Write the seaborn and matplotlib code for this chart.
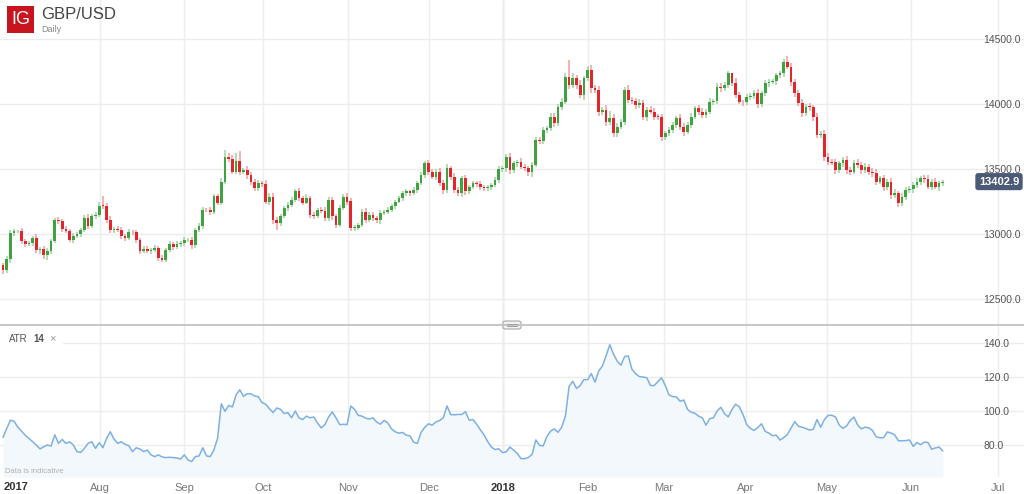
import numpy as np
import pandas as pd
import matplotlib
matplotlib.use("Agg")
import matplotlib.pyplot as plt
import matplotlib.transforms as mtransforms
from matplotlib.patches import Rectangle, FancyBboxPatch
from matplotlib.lines import Line2D
import seaborn as sns

sns.set_theme(style="white")
plt.rcParams['font.family'] = ['Liberation Sans', 'DejaVu Sans']

# ---------------- data ----------------
first_open = 12760
close = [
    12720, 12808, 13008, 13020, 13020, 12944, 12926, 12930, 12969, 12874, 12885, 12841, 12867, 12944, 13105,
    13097, 13038, 13026, 12956, 12987, 12997, 13028, 13123, 13059, 13136, 13149, 13218, 13215, 13110, 13028,
    13038, 13033, 12987, 12969, 13015, 13013, 12956, 12867, 12885, 12872, 12880, 12892, 12815, 12803, 12874,
    12923, 12900, 12923, 12931, 12951, 12956, 12913, 13033, 13060, 13187, 13182, 13172, 13290, 13240, 13400,
    13590, 13580, 13480, 13560, 13480, 13490, 13455, 13400, 13352, 13390, 13385, 13250, 13288, 13110, 13084,
    13135, 13199, 13224, 13263, 13327, 13276, 13242, 13276, 13148, 13135, 13186, 13180, 13122, 13263, 13135,
    13071, 13199, 13288, 13250, 13046, 13050, 13071, 13173, 13110, 13148, 13122, 13110, 13161, 13173, 13186,
    13212, 13250, 13276, 13314, 13327, 13314, 13339, 13390, 13454, 13543, 13480, 13441, 13480, 13390, 13339,
    13505, 13441, 13339, 13314, 13429, 13327, 13365, 13390, 13385, 13365, 13352, 13360, 13378, 13416, 13500,
    13505, 13590, 13492, 13544, 13556, 13518, 13510, 13479, 13531, 13723, 13715, 13800, 13813, 13903, 13851,
    13979, 14018, 14210, 14146, 14197, 14146, 14069, 14197, 14262, 14121, 14108, 13941, 13954, 13864, 13890,
    13774, 13826, 13864, 14108, 14031, 14026, 13992, 14005, 13903, 13954, 13941, 13903, 13900, 13749, 13774,
    13800, 13838, 13890, 13826, 13787, 13838, 13903, 13967, 13941, 13915, 13941, 14018, 14020, 14133, 14121,
    14146, 14236, 14159, 14069, 14018, 14013, 14056, 14060, 14087, 14000, 14082, 14159, 14172, 14175, 14223,
    14236, 14326, 14287, 14172, 14082, 14005, 13928, 13979, 13975, 13903, 13762, 13770, 13595, 13556, 13550,
    13492, 13544, 13570, 13492, 13479, 13544, 13531, 13492, 13518, 13479, 13467, 13403, 13428, 13364, 13403,
    13300, 13313, 13236, 13287, 13339, 13344, 13377, 13403, 13428, 13425, 13364, 13403, 13364, 13390, 13403,
]
wick_up = [
    20, 25, 20, 15, 10, 25, 15, 20, 15, 30, 15, 20, 25, 15, 20,
    25, 15, 20, 10, 20, 15, 15, 20, 30, 15, 20, 25, 75, 20, 25,
    15, 20, 20, 15, 25, 15, 20, 15, 25, 20, 15, 20, 15, 20, 15,
    20, 15, 20, 15, 25, 15, 20, 15, 25, 20, 15, 25, 20, 20, 30,
    55, 30, 25, 60, 80, 20, 30, 25, 20, 25, 20, 30, 25, 30, 20,
    20, 15, 20, 25, 20, 25, 20, 30, 20, 25, 15, 20, 25, 20, 25,
    20, 25, 20, 25, 30, 20, 15, 20, 25, 20, 25, 15, 20, 15, 20,
    15, 15, 20, 15, 20, 15, 20, 15, 20, 15, 25, 20, 20, 30, 25,
    30, 20, 25, 20, 20, 25, 15, 20, 15, 20, 15, 20, 15, 20, 20,
    15, 25, 30, 20, 15, 25, 20, 15, 20, 25, 20, 25, 20, 25, 30,
    20, 25, 30, 128, 40, 25, 35, 20, 30, 40, 25, 30, 20, 35, 60,
    30, 25, 20, 20, 35, 25, 20, 30, 25, 20, 30, 25, 20, 25, 20,
    20, 25, 20, 30, 25, 20, 25, 20, 25, 30, 20, 25, 20, 25, 30,
    20, 20, 5, 40, 20, 15, 20, 25, 20, 30, 20, 25, 20, 20, 15,
    20, 20, 43, 25, 20, 25, 30, 20, 25, 20, 25, 20, 30, 25, 20,
    25, 20, 25, 30, 20, 25, 30, 20, 25, 20, 25, 30, 20, 25, 20,
    25, 30, 20, 25, 20, 25, 20, 25, 20, 25, 30, 20, 25, 20, 15,
]
wick_down = [
    25, 20, 30, 20, 15, 20, 25, 15, 20, 20, 25, 30, 40, 20, 15,
    20, 25, 15, 20, 25, 15, 20, 15, 20, 15, 20, 15, 20, 25, 20,
    20, 15, 25, 20, 15, 20, 25, 20, 15, 20, 25, 20, 25, 20, 15,
    15, 20, 15, 25, 20, 15, 25, 20, 15, 20, 15, 25, 20, 15, 20,
    15, 25, 20, 15, 25, 20, 30, 20, 25, 20, 25, 20, 25, 30, 50,
    20, 15, 20, 15, 20, 25, 20, 15, 25, 20, 15, 20, 25, 20, 30,
    25, 20, 15, 25, 20, 25, 20, 15, 25, 20, 20, 25, 30, 15, 20,
    15, 20, 15, 20, 25, 20, 15, 20, 15, 20, 25, 20, 25, 20, 30,
    20, 25, 25, 20, 30, 25, 20, 15, 20, 25, 20, 25, 20, 15, 20,
    20, 25, 30, 20, 25, 20, 25, 30, 40, 15, 25, 20, 25, 20, 25,
    20, 25, 20, 30, 25, 30, 25, 40, 20, 35, 25, 30, 25, 30, 25,
    30, 25, 20, 25, 20, 25, 30, 20, 25, 30, 20, 25, 20, 30, 25,
    20, 25, 20, 25, 30, 20, 25, 20, 25, 20, 25, 20, 25, 20, 25,
    20, 25, 20, 25, 20, 25, 20, 25, 20, 30, 25, 20, 25, 20, 25,
    20, 25, 20, 30, 25, 20, 25, 20, 25, 30, 25, 20, 30, 25, 20,
    30, 20, 25, 30, 25, 20, 25, 30, 20, 25, 30, 25, 20, 30, 25,
    30, 25, 25, 20, 25, 20, 25, 20, 25, 30, 20, 25, 20, 30, 20,
]
atr = [
    84.5, 89.7, 94.6, 94.0, 90.5, 88.2, 85.8, 83.9, 82.0, 80.0, 77.7, 79.0, 80.0, 79.4, 86.0,
    81.0, 83.3, 81.0, 81.9, 80.0, 76.1, 75.7, 78.0, 81.0, 81.9, 78.0, 81.4, 78.4, 83.9, 87.8,
    83.5, 81.0, 81.9, 80.4, 79.6, 76.1, 78.4, 77.7, 76.1, 77.1, 74.2, 73.2, 74.2, 73.0, 72.6,
    72.8, 72.6, 72.4, 71.8, 74.2, 71.2, 70.3, 73.2, 73.6, 78.4, 73.6, 73.2, 77.1, 84.0, 104.3,
    99.8, 103.3, 102.4, 109.5, 112.5, 108.6, 110.2, 110.2, 108.8, 108.5, 105.0, 104.0, 101.4, 99.1, 101.8,
    101.0, 98.5, 99.0, 96.0, 100.0, 96.0, 95.0, 97.0, 96.0, 96.5, 93.0, 90.1, 92.0, 96.5, 99.5,
    96.0, 92.0, 92.2, 92.0, 103.0, 101.0, 97.5, 97.0, 95.8, 95.3, 96.0, 93.5, 92.3, 94.5, 93.0,
    89.5, 87.8, 87.0, 87.4, 85.8, 85.4, 81.6, 81.0, 87.5, 90.5, 92.5, 91.7, 93.6, 94.4, 96.0,
    103.0, 97.9, 97.8, 98.0, 98.0, 99.6, 94.6, 95.0, 92.3, 89.0, 86.0, 82.0, 78.8, 77.3, 77.8,
    75.5, 76.0, 78.8, 77.0, 75.0, 72.0, 72.0, 72.7, 74.5, 83.0, 79.8, 79.5, 85.0, 88.2, 89.5,
    87.5, 90.5, 97.0, 114.5, 117.5, 113.3, 115.0, 118.5, 118.4, 122.0, 117.0, 123.5, 126.5, 132.5, 139.0,
    133.5, 129.3, 127.0, 132.0, 132.4, 124.5, 122.0, 120.2, 120.0, 119.6, 115.0, 115.0, 117.3, 119.5, 115.0,
    109.5, 108.5, 108.3, 105.7, 106.5, 101.0, 99.3, 98.7, 97.0, 96.0, 91.7, 95.5, 96.0, 100.0, 102.2,
    98.5, 96.5, 100.8, 104.0, 102.5, 98.0, 92.0, 89.8, 88.6, 90.3, 92.5, 88.0, 87.0, 85.5, 85.8,
    82.9, 84.4, 86.2, 90.0, 93.8, 91.0, 90.5, 89.7, 88.8, 89.3, 95.0, 90.5, 95.0, 97.4, 97.5,
    96.5, 91.8, 89.8, 91.3, 94.5, 96.5, 91.7, 89.5, 90.5, 90.1, 88.6, 84.8, 84.3, 84.3, 87.7,
    87.1, 86.0, 82.5, 82.5, 82.6, 83.0, 79.2, 81.5, 80.2, 81.7, 81.5, 77.5, 78.3, 78.8, 76.5,
]
month_pos = [26.2, 48.9, 70.3, 93.2, 115.1, 135.1, 158.1, 178.6, 200.8, 222.7, 245.4, 268.9]
month_labels = ["Aug", "Sep", "Oct", "Nov", "Dec", "2018", "Feb", "Mar", "Apr", "May", "Jun", "Jul"]
year_label = "2018"
price_ticks = [12500, 13000, 13500, 14000, 14500]
atr_ticks = [80, 100, 120, 140]
last_price = 13402.9

# ---------------- frame ----------------
c = np.array(close, dtype=float)
o = np.r_[first_open, c[:-1]]
df = pd.DataFrame({
    "i": np.arange(len(c)),
    "open": o,
    "close": c,
    "high": np.maximum(o, c) + np.array(wick_up),
    "low": np.minimum(o, c) - np.array(wick_down),
    "atr": atr,
})
df["rise"] = df["close"] >= df["open"]

W, H = 1024, 494
fig = plt.figure(figsize=(W / 100, H / 100), dpi=100)
ax = fig.add_axes([0, (H - 325) / H, 1, 325 / H])
ax2 = fig.add_axes([0, (H - 477) / H, 1, 152 / H])

xlim = (-3 / 3.7, 1021 / 3.7)
GRID = "#ededed"

for a in (ax, ax2):
    a.set_xlim(*xlim)
    for s in a.spines.values():
        s.set_visible(False)
    a.set_facecolor("white")
    a.set_xticks(month_pos)
    a.grid(True, color=GRID, lw=1, zorder=0)
    a.set_axisbelow(True)
    a.yaxis.tick_right()
    a.tick_params(axis="y", length=0, pad=-29.5, labelsize=7.5, labelcolor="#555555")
    a.tick_params(axis="x", length=0)
    a.axvline(month_pos[month_labels.index(year_label)], color="#cfcfcf", lw=1, zorder=0.5)

# ---------------- price panel ----------------
ax.set_ylim(12300, 14800)
ax.set_yticks(price_ticks)
ax.set_yticklabels([f"{t:.1f}" for t in price_ticks])
ax.tick_params(axis="x", labelbottom=False)

up_body, dn_body = "#3fa33f", "#e2262b"
up_wick, dn_wick = "#9fd39f", "#f19c9e"
wcol = np.where(df["rise"], up_wick, dn_wick)
bcol = np.where(df["rise"], up_body, dn_body)
ax.vlines(df["i"], df["low"], df["high"], colors=wcol, lw=1.1, zorder=2)
body_h = np.maximum((df["close"] - df["open"]).abs(), 6)
body_b = np.minimum(df["open"], df["close"])
ax.bar(df["i"], body_h, bottom=body_b, width=0.72, color=bcol, linewidth=0, zorder=3)

trans = mtransforms.blended_transform_factory(ax.transAxes, ax.transData)
ax.text(999 / W, last_price, f"{last_price:.1f}", transform=trans, ha="center", va="center",
        fontsize=8, fontweight="bold", color="white", zorder=6,
        bbox=dict(boxstyle="round,pad=0.32,rounding_size=0.25", fc="#4a5a77", ec="none"))

# ---------------- ATR panel ----------------
ax2.set_ylim(61.2, 150.6)
ax2.set_yticks(atr_ticks)
ax2.set_yticklabels([f"{t:.1f}" for t in atr_ticks])
ax2.fill_between(df["i"], df["atr"], 61.2, color="#f3f8fd", zorder=1, lw=0)
sns.lineplot(data=df, x="i", y="atr", ax=ax2, color="#7db0e3", lw=1.1, zorder=3)
ax2.set_xlabel("")
ax2.set_ylabel("")
ax2.set_xlim(*xlim)
ax2.set_xticklabels(month_labels)
ax2.tick_params(axis="x", labelsize=8, labelcolor="#777777", pad=4)
for lbl in ax2.get_xticklabels():
    if lbl.get_text() == year_label:
        lbl.set_fontweight("bold")
        lbl.set_color("#333333")

# ---------------- decorations ----------------
def fy(py):
    return 1 - py / H

fig.text(4 / W, fy(487), "2017", ha="left", va="center", fontsize=8, fontweight="bold", color="#333333")
fig.text(5 / W, fy(471.5), "Data is indicative", ha="left", va="center", fontsize=5.5, color="#b0b0b0")

# panel separator and handle
fig.add_artist(Line2D([0, 1], [fy(325), fy(325)], transform=fig.transFigure, color="#c2c2c2", lw=1.3))
fig.add_artist(FancyBboxPatch((503 / W, fy(329)), 18 / W, 8 / H, transform=fig.transFigure,
                              boxstyle="round,pad=0,rounding_size=0.003", fc="#f2f2f2", ec="#a8a8a8", lw=0.8))
for yy in (323.8, 326.2):
    fig.add_artist(Line2D([507 / W, 517 / W], [fy(yy), fy(yy)], transform=fig.transFigure, color="#a0a0a0", lw=0.7))

# ATR legend
fig.add_artist(Rectangle((0, fy(346)), 63 / W, 15 / H, transform=fig.transFigure, fc="white", ec="none"))
fig.text(9 / W, fy(338.5), "ATR", ha="left", va="center", fontsize=7, color="#555555")
fig.text(33 / W, fy(338.5), "14", ha="left", va="center", fontsize=7, fontweight="bold", color="#555555")
fig.text(49 / W, fy(338.5), "\u00d7", ha="left", va="center", fontsize=8, color="#9a9a9a")

# header
fig.add_artist(Rectangle((7 / W, fy(33)), 27 / W, 27 / H, transform=fig.transFigure, fc="#c8141e", ec="none"))
fig.text(20.5 / W, fy(20), "IG", ha="center", va="center", fontsize=13, color="white")
fig.text(41 / W, fy(14.5), "GBP/USD", ha="left", va="center", fontsize=12, color="#444444")
fig.text(41 / W, fy(29), "Daily", ha="left", va="center", fontsize=6.5, color="#8a8a8a")

fig.savefig("out.png", dpi=100)
